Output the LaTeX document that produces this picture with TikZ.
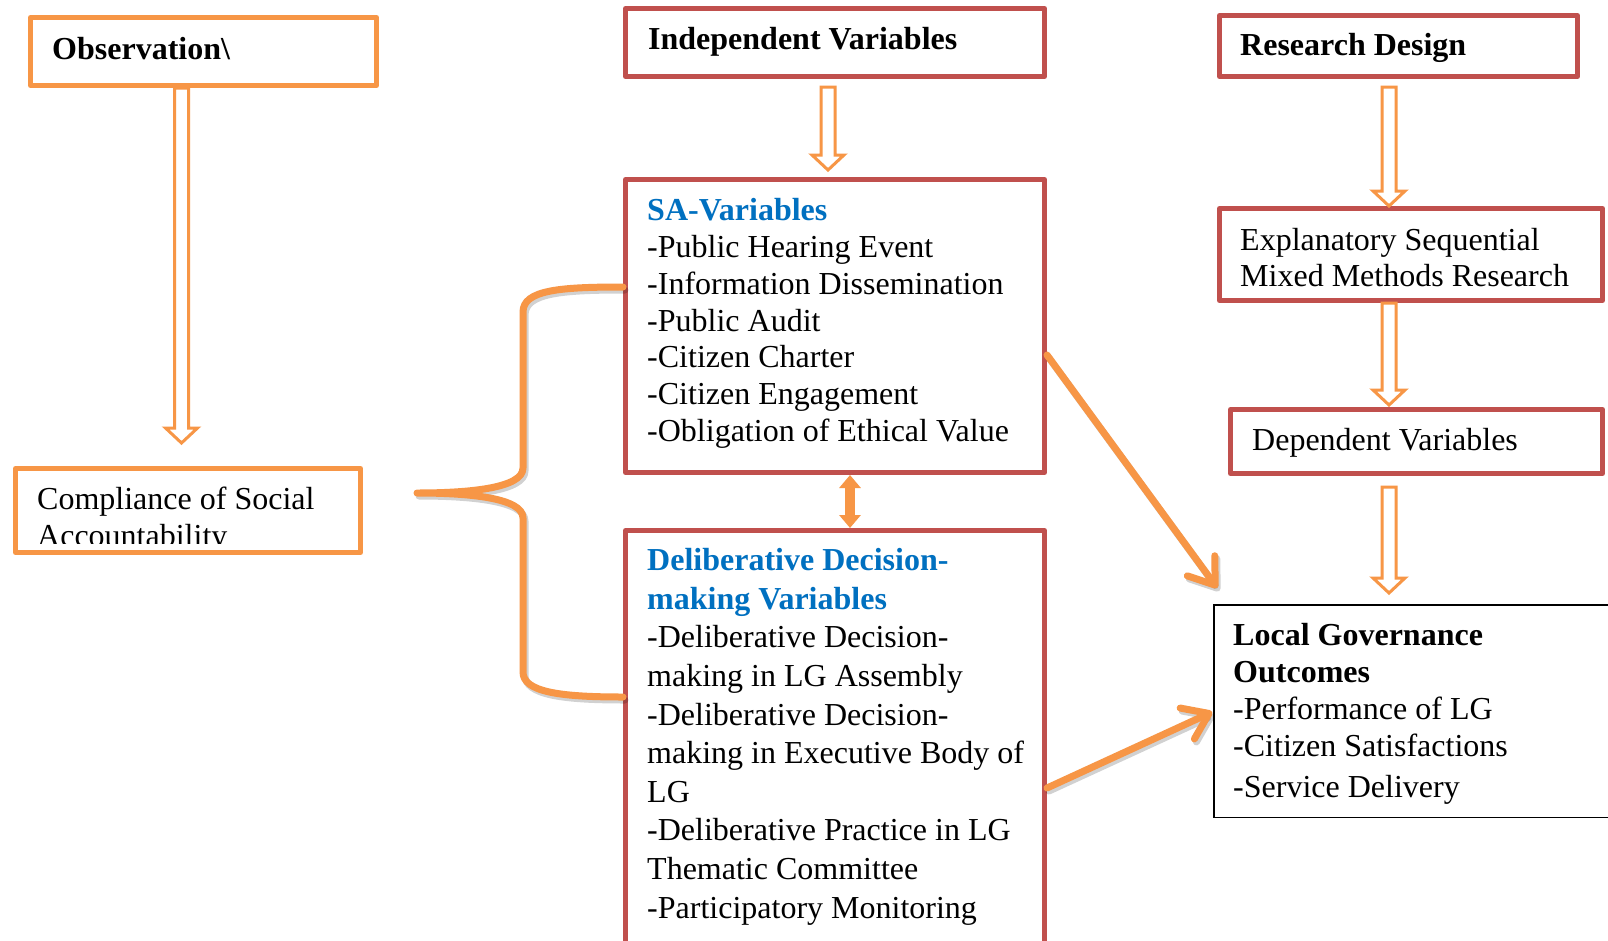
\documentclass[tikz,border=0pt]{standalone}
\usepackage{fontspec}
\setmainfont{Liberation Serif}
\usetikzlibrary{arrows.meta,calc}
\definecolor{orng}{HTML}{F79646}
\definecolor{redb}{HTML}{C0504D}
\definecolor{ttlblue}{HTML}{0070C0}
\begin{document}
\begin{tikzpicture}[x=1pt,y=-1pt,
  box/.style={rectangle, inner sep=0pt, line width=5pt, line join=round},
  obox/.style={box, draw=orng},
  rbox/.style={box, draw=redb},
  kbox/.style={rectangle, inner sep=0pt, draw=black, line width=1.5pt},
  % multi-line texts are placed by the baseline of their last line
  txt/.style={anchor=base west, inner sep=0pt, align=left,
    font=\fontsize{32pt}{36.8pt}\selectfont},
  btxt/.style={txt, font=\fontsize{32pt}{36.8pt}\selectfont\bfseries},
  hollowarrow/.style={draw=orng, line width=3pt, fill=white, line join=miter,
    to path={let \p1=(\tikztostart), \p2=(\tikztotarget) in
      (\x1-7pt,\y1) -- (\x1-7pt,\y2+15pt) -- (\x1-16pt,\y2+15pt) -- (\x1,\y2)
      -- (\x1+16pt,\y2+15pt) -- (\x1+7pt,\y2+15pt) -- (\x1+7pt,\y1) -- cycle}},
  linkarrow/.style={line width=7pt, line cap=round,
    -{Straight Barb[length=24pt,width=34pt,round]}},
  shadowed/.style={draw=black, opacity=0.18, transform canvas={shift={(2pt,-3pt)}}},
  orngline/.style={draw=orng},
]
\useasboundingbox[fill=white] (0,0) rectangle (1608,940);

% boxes
\node[obox, minimum width=346pt, minimum height=68pt] (obs) at (203.5,51.5) {};
\node[obox, minimum width=345pt, minimum height=84pt] (comp) at (188,510.5) {};
\node[rbox, minimum width=419pt, minimum height=68pt] (iv) at (835,42.5) {};
\node[rbox, minimum width=419pt, minimum height=293pt] (sa) at (835,326) {};
\node[rbox, minimum width=419pt, minimum height=427pt] (dd) at (835,744) {};
\node[rbox, minimum width=358pt, minimum height=61pt] (rd) at (1398.5,46) {};
\node[rbox, minimum width=383pt, minimum height=92pt] (esm) at (1411,254.5) {};
\node[rbox, minimum width=372pt, minimum height=64pt] (dep) at (1416.5,441.5) {};
\node[kbox, minimum width=406pt, minimum height=212.5pt] (lg) at (1417,711) {};

% texts
\node[btxt] (obsT) at (52,59) {Observation\textbackslash};
\begin{scope}
  \clip (16,469) rectangle (360,543);
  \node[txt, font=\fontsize{32pt}{37pt}\selectfont] (compT) at (37,546)
    {Compliance of Social\\Accountability};
\end{scope}
\node[btxt] (ivT) at (648,49) {Independent Variables};
\node[txt] (saT) at (647,441.5) {\textcolor{ttlblue}{\bfseries SA-Variables}\\
  -Public Hearing Event\\-Information Dissemination\\-Public Audit\\
  -Citizen Charter\\-Citizen Engagement\\-Obligation of Ethical Value};
\node[txt, font=\fontsize{32pt}{38.6pt}\selectfont] (ddT) at (647,918)
  {\textcolor{ttlblue}{\bfseries Deliberative Decision-}\\
   \textcolor{ttlblue}{\bfseries making Variables}\\
   -Deliberative Decision-\\making in LG Assembly\\-Deliberative Decision-\\
   making in Executive Body of\\LG\\-Deliberative Practice in LG\\
   Thematic Committee\\-Participatory Monitoring};
\node[btxt] (rdT) at (1240,55) {Research Design};
\node[txt, font=\fontsize{32pt}{36pt}\selectfont] (esmT) at (1240,286)
  {Explanatory Sequential\\Mixed Methods Research};
\node[txt] (depT) at (1252,450) {Dependent Variables};
\node[txt, font=\fontsize{32pt}{37pt}\selectfont] (lgT) at (1233,797)
  {\textbf{Local Governance}\\\textbf{Outcomes}\\-Performance of LG\\
   -Citizen Satisfactions\\[4pt]-Service Delivery};

% hollow flow arrows
\draw[hollowarrow] ([xshift=-22pt]obs.south) to ([xshift=-6.5pt,yshift=23pt]comp.north);
\draw[hollowarrow] ([xshift=-7pt,yshift=-8pt]iv.south) to ([xshift=-7pt,yshift=7pt]sa.north);
\draw[hollowarrow] ([xshift=-9.5pt,yshift=-8pt]rd.south) to ([xshift=-22pt]esm.north);
\draw[hollowarrow] ([xshift=-22pt]esm.south) to ([xshift=-27.5pt,yshift=2pt]dep.north);
\draw[hollowarrow] ([xshift=-27.5pt,yshift=-11pt]dep.south) to ([xshift=-28pt,yshift=11pt]lg.north);

% two-way link between the variable groups
\draw[orng, line width=10pt, {Triangle[length=13pt,width=21pt]}-{Triangle[length=13pt,width=21pt]}]
  ([xshift=15pt]sa.south) -- ([xshift=15pt]dd.north);

% brace gathering both variable groups
\coordinate (braceTop) at ([yshift=39pt]sa.west);
\coordinate (braceBot) at ([yshift=47pt]dd.west);
\coordinate (braceTip) at (417,493);
\foreach \sty in {shadowed,orngline}{
  \draw[\sty, line width=7pt, line cap=round, line join=round]
    (braceTop) .. controls (560,287) and (523,290) .. (523,312)
    -- (523,468) .. controls (523,488) and (470,493) .. (braceTip)
    .. controls (470,493) and (523,498) .. (523,518)
    -- (523,672) .. controls (523,692) and (560,697) .. (braceBot);
}

% links to the outcomes
\foreach \sty in {shadowed,orngline}{
  \draw[linkarrow, \sty] ([yshift=-29pt]sa.east) -- ([xshift=4pt,yshift=16pt]lg.north west);
  \draw[linkarrow, \sty] ([yshift=-44pt]dd.east) -- ([xshift=-1pt,yshift=-1pt]lg.west);
}
\end{tikzpicture}
\end{document}
